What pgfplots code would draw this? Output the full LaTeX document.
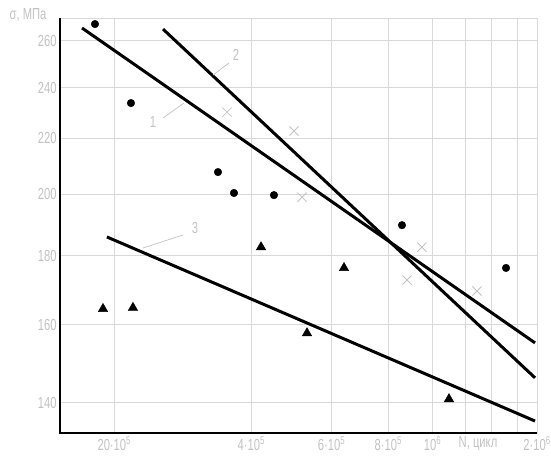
\documentclass[border=0pt]{standalone}
\usepackage{pgfplots}
\pgfplotsset{compat=1.18}
\usepackage{fontspec}
\setmainfont{Liberation Sans}
\newfontfamily\gost[FakeStretch=0.7]{Liberation Sans}
\definecolor{lbl}{gray}{0.76}
\definecolor{grd}{gray}{0.85}

\begin{document}
\begin{tikzpicture}[x=1pt,y=1pt]
\begin{axis}[
	at={(60pt,26pt)}, anchor=south west,
	scale only axis, width=477pt, height=415pt,
	xmode=log, ymode=log,
	xmin=1.52e5, xmax=1.697e6,
	ymin=132.96, ymax=270.3,
	xtick={2e5,4e5,6e5,8e5,1e6,1.697e6},
	xticklabels={20·10\textsuperscript{5},4·10\textsuperscript{5},6·10\textsuperscript{5},8·10\textsuperscript{5},10\textsuperscript{6},2·10\textsuperscript{6}},
	extra x ticks={1.18e6,1.35e6,1.54e6},
	extra x tick labels={,,},
	extra tick style={grid=major, major tick length=0pt},
	ytick={140,160,180,200,220,240,260},
	yticklabels={140,160,180,200,220,240,260},
	major tick length=0pt, minor tick length=0pt,
	grid=major,
	major grid style={grd, line width=0.7pt},
	axis line style={grd, line width=0.7pt},
	tick label style={font=\gost\fontsize{16}{16}\selectfont, text=lbl},
	]
	
	% 1
	\addplot[black, line width=3pt] coordinates{(1.699e5,265.7) (1.680e6,155.1)};
	% 2
	\addplot[black, line width=3pt] coordinates{(2.559e5,265.2) (1.680e6,146.1)};
	% 3
	\addplot[black, line width=3pt] coordinates{(1.927e5,185.9) (1.680e6,135.7)};
	
	\addplot[only marks, mark=*, mark size=3.8pt, black]
	coordinates{
		(1.814e5, 267.5)
		(2.176e5, 233.7)
		(3.379e5, 207.7)
		(3.664e5, 200.4)
		(4.485e5, 199.7)
		(8.57e5, 189.7)
		(1.4506e6, 176.3)
	};
	
	\addplot[only marks, mark=triangle*, mark size=5.5pt, black]
	coordinates{
		(1.889e5, 164.4)
		(2.198e5, 164.7)
		(4.201e5, 182.7)
		(5.301e5, 157.7)
		(6.392e5, 176.3)
		(1.087e6, 140.9)
	};
	
	\addplot[only marks, mark=x, mark size=6.5pt, lbl, line width=0.8pt]
	coordinates{
		(3.537e5, 230.1)
		(4.964e5, 222.8)
		(5.169e5, 199.0)
		(9.478e5, 182.7)
		(8.791e5, 172.7)
		(1.2524e6, 169.5)
	};
	
\end{axis}

% axes
\draw[black, line width=2.5pt] (60,441) -- (60,26) -- (537,26);

% labels
\begin{scope}[every node/.style={text=lbl, font=\gost\fontsize{16}{16}\selectfont}]
	\node at (28,444) {σ, МПа};
	\node[anchor=north] at (478,26) {N, цикл};
	\node at (153,337) {1};
	\node at (236,404) {2};
	\node at (195,231) {3};
\end{scope}
\draw[lbl, line width=0.7pt] (163,341) -- (184,356);
\draw[lbl, line width=0.7pt] (213,384) -- (229,396);
\draw[lbl, line width=0.7pt] (143,211) -- (183,224);

\pgfresetboundingbox
\useasboundingbox (0,0) rectangle (551,459);
\end{tikzpicture}
\end{document}
